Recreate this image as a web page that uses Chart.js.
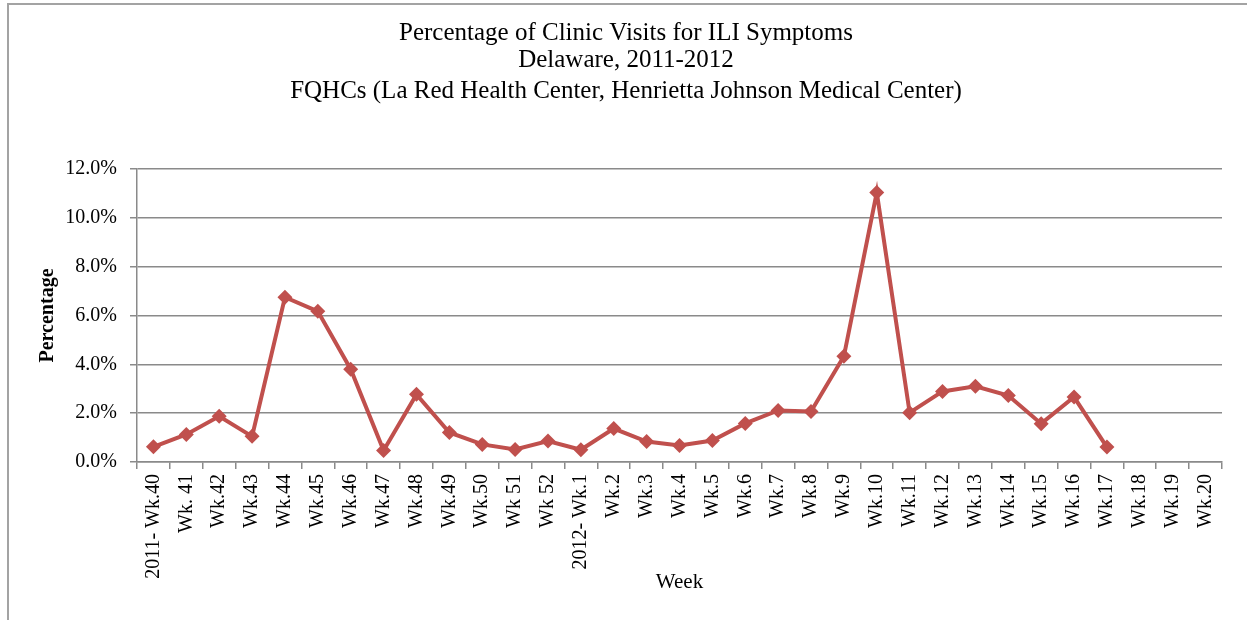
<!DOCTYPE html>
<html>
<head>
<meta charset="utf-8">
<script src="https://cdn.jsdelivr.net/npm/chart.js@4"></script>
<style>
  html, body { margin: 0; padding: 0; background: #fff; }
  #wrap { position: relative; width: 1247px; height: 620px; overflow: hidden; }
  #frame { position: absolute; left: 7px; top: 3px; width: 1300px; height: 700px;
           border-left: 2px solid #a3a3a3; border-top: 2px solid #a3a3a3; }
  canvas { position: absolute; left: 0; top: 0; }
</style>
</head>
<body>
<div id="wrap">
  <div id="frame"></div>
  <canvas id="c" width="1247" height="620"></canvas>
</div>
<script>
const weeks = ["2011- Wk.40","Wk. 41","Wk.42","Wk.43","Wk.44","Wk.45","Wk.46","Wk.47","Wk.48","Wk.49",
  "Wk.50","Wk 51","Wk 52","2012- Wk.1","Wk.2","Wk.3","Wk.4","Wk.5","Wk.6","Wk.7","Wk.8","Wk.9",
  "Wk.10","Wk.11","Wk.12","Wk.13","Wk.14","Wk.15","Wk.16","Wk.17","Wk.18","Wk.19","Wk.20"];
const iliPercent = [0.62, 1.13, 1.87, 1.05, 6.75, 6.17, 3.80, 0.47, 2.77, 1.21,
  0.72, 0.51, 0.86, 0.50, 1.37, 0.84, 0.68, 0.88, 1.58, 2.11, 2.07, 4.33,
  11.04, 2.02, 2.89, 3.10, 2.72, 1.57, 2.66, 0.61, null, null, null];
const titleLines = ["Percentage of Clinic Visits for ILI Symptoms", "Delaware, 2011-2012"];
const subtitleLine = "FQHCs (La Red Health Center, Henrietta Johnson Medical Center)";

const serif = "'Liberation Serif', 'Times New Roman', serif";
const gridColor = '#8a8a8a';

new Chart(document.getElementById('c'), {
  type: 'line',
  data: {
    labels: weeks,
    datasets: [{
      data: iliPercent,
      borderColor: '#C0504D',
      backgroundColor: '#C0504D',
      borderWidth: 4,
      pointStyle: 'rectRot',
      pointRadius: 7.5,
      pointHoverRadius: 7.5,
      pointBorderWidth: 0,
      tension: 0,
      spanGaps: false
    }]
  },
  options: {
    responsive: false,
    animation: false,
    devicePixelRatio: 1,
    layout: { padding: { left: 30, right: 25, top: 0, bottom: 8 } },
    plugins: {
      legend: { display: false },
      tooltip: { enabled: false },
      title: {
        display: true,
        text: titleLines,
        color: '#000',
        font: { family: serif, size: 25, weight: 'normal', lineHeight: '27px' },
        padding: { top: 20, bottom: 0 }
      },
      subtitle: {
        display: true,
        text: subtitleLine,
        color: '#000',
        font: { family: serif, size: 25, weight: 'normal', lineHeight: '25px' },
        padding: { top: 5, bottom: 65 }
      }
    },
    scales: {
      x: {
        type: 'category',
        offset: true,
        afterFit: s => { s.height = 150; },
        grid: { offset: true, drawOnChartArea: false, drawTicks: true, tickLength: 7,
                color: gridColor, lineWidth: 1.5 },
        border: { color: gridColor, width: 1.5 },
        ticks: { autoSkip: false, minRotation: 90, maxRotation: 90, padding: 5,
                 color: '#000', font: { family: serif, size: 20 } },
        title: { display: true, text: 'Week', color: '#000',
                 font: { family: serif, size: 21 }, padding: { top: 0, bottom: 17 } }
      },
      y: {
        min: 0, max: 12,
        afterFit: s => { s.width = 107; },
        grid: { color: gridColor, lineWidth: 1.5, tickLength: 7 },
        border: { color: gridColor, width: 1.5 },
        ticks: { stepSize: 2, padding: 13, color: '#000',
                 font: { family: serif, size: 20 },
                 callback: v => v.toFixed(1) + '%' },
        title: { display: true, text: 'Percentage', color: '#000',
                 font: { family: serif, size: 20, weight: 'bold' }, padding: { top: 6, bottom: 0 } }
      }
    }
  }
});
</script>
</body>
</html>
